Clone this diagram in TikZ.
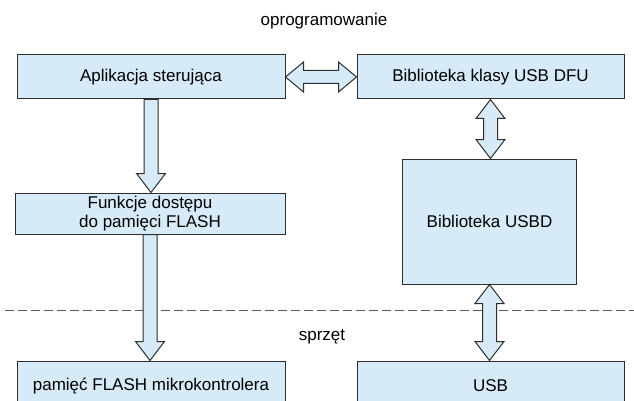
\documentclass[tikz,border=0pt]{standalone}
\usepackage{fontspec}
\usepackage{xcolor}
\usepackage{tikz}
\usetikzlibrary{calc, positioning}
\newfontfamily\boxfont{Liberation Sans}
\definecolor{boxblue}{RGB}{214,234,248}
\definecolor{edgegray}{RGB}{45,45,45}
\definecolor{dashgray}{RGB}{90,90,90}

% block arrows, drawn between the anchors of two named nodes
\newcommand{\downarr}[2]{%
  \path[blockarr] let \p1=(#1.south), \p2=(#2.north) in
    (\x1-7pt,\y1) -- (\x1-7pt,\y2+19pt) -- (\x1-14.5pt,\y2+19pt) -- (\x1,\y2)
    -- (\x1+14.5pt,\y2+19pt) -- (\x1+7pt,\y2+19pt) -- (\x1+7pt,\y1) -- cycle;}
\newcommand{\vbotharr}[2]{%
  \path[blockarr] let \p1=(#1.south), \p2=(#2.north) in
    (\x1,\y1) -- (\x1+14.5pt,\y1-19pt) -- (\x1+7pt,\y1-19pt) -- (\x1+7pt,\y2+19pt)
    -- (\x1+14.5pt,\y2+19pt) -- (\x1,\y2) -- (\x1-14.5pt,\y2+19pt) -- (\x1-7pt,\y2+19pt)
    -- (\x1-7pt,\y1-19pt) -- (\x1-14.5pt,\y1-19pt) -- cycle;}
\newcommand{\hbotharr}[2]{%
  \path[blockarr] let \p1=(#1.east), \p2=(#2.west) in
    (\x1,\y1) -- (\x1+18pt,\y1+15pt) -- (\x1+18pt,\y1+6.5pt) -- (\x2-18pt,\y1+6.5pt)
    -- (\x2-18pt,\y1+15pt) -- (\x2,\y1) -- (\x2-18pt,\y1-15pt) -- (\x2-18pt,\y1-6.5pt)
    -- (\x1+18pt,\y1-6.5pt) -- (\x1+18pt,\y1-15pt) -- cycle;}

\tikzset{
  txt/.style={font=\boxfont\fontsize{17}{19.5}\selectfont, align=center, inner sep=0pt},
  box/.style={txt, draw=edgegray, fill=boxblue, line width=1pt},
  blockarr/.style={draw=edgegray, fill=boxblue, line width=1pt, line join=miter},
  border/.style={draw=dashgray, line width=1.3pt, dash pattern=on 9pt off 4pt},
}

\begin{document}
\begin{tikzpicture}[x=1pt, y=-1pt]
  \useasboundingbox (0,0) rectangle (634,401);

  \node[txt] (soft) at (324,21) {oprogramowanie};
  \node[txt] (hard) at (322,337) {sprzęt};
  \coordinate (split-l) at (5,310.5);
  \coordinate (split-r) at (640,310.5);
  \draw[border] (split-l) -- (split-r);

  \node[box, minimum width=268, minimum height=44] (app) at (151,77) {Aplikacja sterująca};
  \node[box, minimum width=267, minimum height=44] (dfu) at (490.5,77) {Biblioteka klasy USB DFU};
  \node[box, minimum width=270, minimum height=41] (flashfn) at (150,213.5) {Funkcje dostępu\\do pamięci FLASH};
  \node[box, minimum width=174, minimum height=125] (usbd) at (489.5,221.5) {Biblioteka USBD};
  \node[box, minimum width=268, minimum height=50] (flashmem) at (151,386) {pamięć FLASH mikrokontrolera};
  \node[box, minimum width=267, minimum height=50] (usb) at (490.5,386) {USB};

  \hbotharr{app}{dfu}
  \downarr{app}{flashfn}
  \downarr{flashfn}{flashmem}
  \vbotharr{dfu}{usbd}
  \vbotharr{usbd}{usb}
\end{tikzpicture}
\end{document}
